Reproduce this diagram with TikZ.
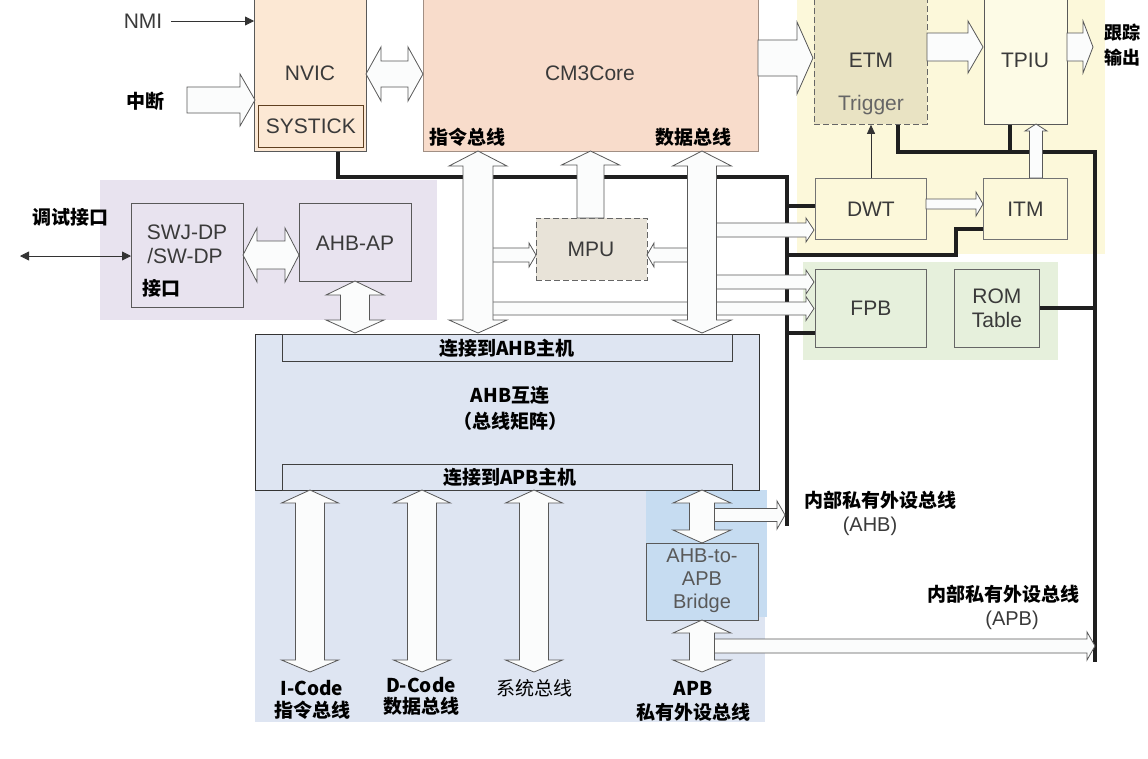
\documentclass[tikz,border=0pt]{standalone}
\usepackage{fontspec}
\setmainfont{Liberation Sans}
\newfontfamily\cjk{Noto Sans CJK SC}
\usetikzlibrary{arrows.meta}
\definecolor{nvicfill}{HTML}{FCE8D4}
\definecolor{corefill}{HTML}{F8DCCB}
\definecolor{etmfill}{HTML}{E9E3C3}
\definecolor{yelreg}{HTML}{FCF8DA}
\definecolor{tpiufill}{HTML}{FDFBE6}
\definecolor{greenreg}{HTML}{E6F0DC}
\definecolor{purpreg}{HTML}{E8E3EF}
\definecolor{ahbfill}{HTML}{DEE5F2}
\definecolor{bridgereg}{HTML}{C6DCF1}
\definecolor{mpufill}{HTML}{E8E3D8}
\definecolor{holfill}{HTML}{FBFCFC}
\definecolor{txt}{HTML}{3A3A3A}
\tikzset{
  box/.style={draw=#1, line width=0.8pt, inner sep=0pt, anchor=north west},
  box/.default={black!65},
  hol/.style={draw=black!65, fill=holfill, line width=0.8pt, line join=miter},
  busline/.style={draw=black!88, line width=3.6pt},
  lat/.style={font=\fontsize{21}{23}\selectfont, text=txt, inner sep=0pt},
  zh/.style={font=\cjk\bfseries\fontsize{19}{21}\selectfont, text=black, inner sep=0pt},
  thinarr/.style={draw=black!80, line width=0.8pt},
}
% horizontal single arrow: tail x, head-base x, tip x, yc, body half, head half
\newcommand\HA[6]{\filldraw[hol] (#1,#4-#5) -- (#2,#4-#5) -- (#2,#4-#6) -- (#3,#4) -- (#2,#4+#6) -- (#2,#4+#5) -- (#1,#4+#5) -- cycle;}
% horizontal double arrow: tip1, base1, base2, tip2, yc, bh, hh
\newcommand\HD[7]{\filldraw[hol] (#1,#5) -- (#2,#5-#7) -- (#2,#5-#6) -- (#3,#5-#6) -- (#3,#5-#7) -- (#4,#5) -- (#3,#5+#7) -- (#3,#5+#6) -- (#2,#5+#6) -- (#2,#5+#7) -- cycle;}
% vertical single arrow: tail y, head-base y, tip y, xc, bh, hh
\newcommand\VA[6]{\filldraw[hol] (#4-#5,#1) -- (#4-#5,#2) -- (#4-#6,#2) -- (#4,#3) -- (#4+#6,#2) -- (#4+#5,#2) -- (#4+#5,#1) -- cycle;}
% vertical double arrow: tip1, base1, base2, tip2, xc, bh, hh
\newcommand\VD[7]{\filldraw[hol] (#5,#1) -- (#5-#7,#2) -- (#5-#6,#2) -- (#5-#6,#3) -- (#5-#7,#3) -- (#5,#4) -- (#5+#7,#3) -- (#5+#6,#3) -- (#5+#6,#2) -- (#5+#7,#2) -- cycle;}
\begin{document}
\begin{tikzpicture}[x=1pt,y=-1pt]
\useasboundingbox (0,0) rectangle (1148,758);
\clip (0,0) rectangle (1148,758);
\fill[white] (0,0) rectangle (1148,758);
% regions
\fill[purpreg] (100,180) rectangle (437,320);
\fill[yelreg] (797,-5) rectangle (1105,254);
\fill[greenreg] (803,262) rectangle (1058,360);
\fill[ahbfill] (255,490) rectangle (765,722);
\fill[bridgereg] (646,490) rectangle (767,617);

% thick bus lines
\draw[busline] (338,140) -- (338,177) -- (787,177) -- (787,526);
\draw[busline] (787,206) -- (820,206);
\draw[busline] (787,255) -- (956,255) -- (956,229) -- (990,229);
\draw[busline] (787,333) -- (820,333);
\draw[busline] (898,115) -- (898,152) -- (1095,152) -- (1095,662);
\draw[busline] (1010,115) -- (1010,152);
\draw[busline] (1030,308) -- (1095,308);

% boxes
\node[box, fill=nvicfill, minimum width=112pt, minimum height=161pt] (nvic) at (254,-10) {};
\node[box=black!50!brown, fill=nvicfill, minimum width=105pt, minimum height=42pt, lat] (systick) at (258,105) {SYSTICK};
\node[lat] (nvict) at (310,73) {NVIC};
\node[box=black!35!corefill, fill=corefill, minimum width=335pt, minimum height=161pt] (core) at (423,-10) {};
\node[lat] (coret) at (590,73) {CM3Core};
\node[zh] (ibus) at (467,137) {指令总线};
\node[zh] (dbus) at (693,137) {数据总线};

\node[box=black!60, dashed, dash pattern=on 6pt off 3pt, fill=etmfill, minimum width=113pt, minimum height=134pt] (etm) at (814,-10) {};
\node[lat] (etmt) at (871,60) {ETM};
\node[lat, text=black!60] (trig) at (871,105) {Trigger};
\node[box, fill=tpiufill, minimum width=83pt, minimum height=134pt] (tpiu) at (984,-10) {};
\node[lat] (tpiut) at (1025,60) {TPIU};
\node[box=black!55, fill=yelreg, minimum width=111pt, minimum height=61pt, lat] (dwt) at (815,178) {DWT};
\node[box=black!55, fill=yelreg, minimum width=84pt, minimum height=61pt, lat] (itm) at (983,178) {ITM};
\node[box=black!60, fill=greenreg, minimum width=111pt, minimum height=78pt, lat] (fpb) at (815,269) {FPB};
\node[box=black!60, fill=greenreg, minimum width=85pt, minimum height=78pt, lat, align=center, font=\fontsize{21}{24}\selectfont] (rom) at (954,269) {ROM\\Table};

\node[box=black!65, fill=purpreg, minimum width=112pt, minimum height=104pt] (swj) at (131,203) {};
\node[lat] (swj1) at (187,232) {SWJ-DP};
\node[lat] (swj2) at (185,256) {/SW-DP};
\node[zh] (swj3) at (161,288) {接口};
\node[box=black!65, fill=purpreg, minimum width=112pt, minimum height=78pt] (ahbap) at (299,203) {};
\node[lat] (ahbapt) at (355,243) {AHB-AP};
\node[box=black!60, dashed, dash pattern=on 6pt off 3pt, fill=mpufill, minimum width=111pt, minimum height=62pt] (mpu) at (536,218) {};
\node[lat] (mput) at (591,249) {MPU};

\node[box=black!80, fill=ahbfill, minimum width=504pt, minimum height=156pt] (ahb) at (255,334) {};
\node[box=black!75, fill=ahbfill, minimum width=450pt, minimum height=27pt] (ahbtop) at (282,334) {};
\node[box=black!75, fill=ahbfill, minimum width=450pt, minimum height=26pt] (ahbbot) at (282,464) {};
\node[zh] (ahbtopt) at (507,348) {连接到AHB主机};
\node[zh] (ahbt1) at (510,395) {AHB互连};
\node[zh] (ahbt2) at (510,421) {（总线矩阵）};
\node[zh] (ahbbott) at (510,477) {连接到APB主机};
\node[box=black!65, fill=bridgereg, minimum width=112pt, minimum height=77pt] (bridge) at (646,543) {};
\node[lat, align=center, font=\fontsize{20}{23}\selectfont, text=black!65] (bridget) at (702,581) {AHB-to-\\APB\\Bridge};

% thin arrows
\node[lat] (nmi) at (143,21) {NMI};
\draw[thinarr, -{Triangle[length=9pt,width=9pt]}] (171,21) -- (nvic.west |- 0,21);
\draw[thinarr, -{Triangle[length=9pt,width=8pt]}] (dwt.north -| 871,0) -- (etm.south -| 871,0);
\coordinate (dbgend) at (20,256);
\draw[thinarr, {Triangle[length=9pt,width=9pt]}-{Triangle[length=9pt,width=9pt]}] (dbgend) -- (swj.west |- 0,256);
\node[zh] (dbg) at (70,217) {调试接口};
\node[zh] (irq) at (145,101) {中断};

% hollow arrows: horizontal branches (under the buses)
\HA{187}{240}{255}{100}{13}{26}
\HD{366}{381}{408}{423}{74}{13}{27}
\HA{758}{797}{813}{58}{18}{36}
\HA{927}{968}{983}{47}{14}{26}
\HA{1067}{1083}{1093}{47}{14}{26}
\HA{926}{976}{983}{204}{5}{12}
\HA{700}{806}{814}{230}{7}{12}
\HA{700}{806}{814}{282}{7}{12}
\HA{480}{806}{814}{308.5}{6.5}{12}
\HA{480}{529}{536}{255}{7}{12}
\HA{700}{654}{647}{255}{7}{12}
\HD{243}{257}{285}{299}{255}{14}{27}
\HA{700}{777}{785}{515}{6.5}{14}
\HA{700}{1087}{1095}{646}{7}{14}
% vertical buses
\VD{151}{166}{320}{333}{478}{15}{29}
\VD{151}{166}{320}{333}{702}{14.5}{29.5}
\VA{218}{165}{151}{590.5}{13.5}{29}
\VD{281}{295}{320}{333}{355}{14.5}{29}
\VA{178}{131}{124}{1036}{6.5}{11}
\VD{490}{503}{660}{672}{310}{14.5}{28.5}
\VD{490}{503}{660}{672}{422}{14.5}{28.5}
\VD{490}{503}{660}{672}{534}{14.5}{28.5}
\VD{490}{503}{530}{543}{702}{12.5}{29}
\VD{620}{633}{660}{672}{702}{12.5}{29}

% output labels
\node[zh, font=\cjk\bfseries\fontsize{18}{20}\selectfont] (trc1) at (1122,33) {跟踪};
\node[zh, font=\cjk\bfseries\fontsize{18}{20}\selectfont] (trc2) at (1122,58) {输出};
\node[zh] (ahbp1) at (880,500) {内部私有外设总线};
\node[lat, font=\fontsize{20}{22}\selectfont] (ahbp2) at (870,526) {(AHB)};
\node[zh] (apbp1) at (1003,594) {内部私有外设总线};
\node[lat, font=\fontsize{20}{22}\selectfont] (apbp2) at (1012,620) {(APB)};
% bottom labels
\node[zh] (ic1) at (312,688) {I-Code};
\node[zh] (ic2) at (312,710) {指令总线};
\node[zh] (dc1) at (421,685) {D-Code};
\node[zh] (dc2) at (421,706) {数据总线};
\node[zh, font=\cjk\fontsize{19}{21}\selectfont] (sys) at (534,688) {系统总线};
\node[zh] (apb1) at (693,688) {APB};
\node[zh] (apb2) at (693,712) {私有外设总线};
\end{tikzpicture}
\end{document}
